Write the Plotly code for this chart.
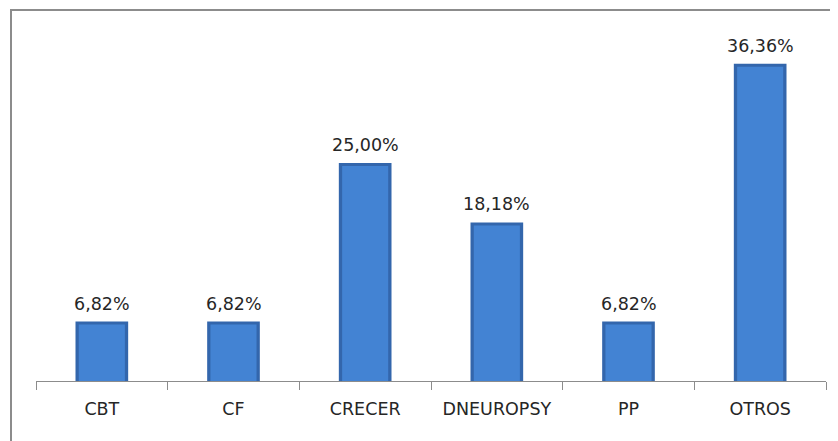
import plotly.graph_objects as go

categories = ["CBT", "CF", "CRECER", "DNEUROPSY", "PP", "OTROS"]
percentages = [6.82, 6.82, 25.00, 18.18, 6.82, 36.36]

# page body has an 8px margin, so the figure is 8px smaller than the window
W, H = 830, 433
ML, MR, MT, MB = 28, 12, 24, 60
FONT = "DejaVu Sans"
FSIZE = 17.5

fig = go.Figure()

# darker outer bar gives the bevelled edge
fig.add_trace(go.Bar(
    x=categories, y=percentages, width=0.40,
    marker=dict(color="#3366AC", line=dict(width=0)),
    hoverinfo="skip",
))
# lighter face of the bar
fig.add_trace(go.Bar(
    x=categories, y=[p - 0.35 for p in percentages], width=0.35,
    marker=dict(color="#4383D3", line=dict(width=0)),
    hoverinfo="skip",
))

# value labels above the bars
for cat, p in zip(categories, percentages):
    fig.add_annotation(x=cat, y=p, text=f"{p:.2f}%".replace(".", ","),
                       showarrow=False, yanchor="bottom", yshift=6,
                       font=dict(family=FONT, size=FSIZE, color="#262626"))

pw = W - ML - MR
ph = H - MT - MB
# chart frame (only top and left edges fall inside the picture)
fig.add_shape(type="rect", xref="paper", yref="paper",
              x0=(3 - ML) / pw, x1=(W + 5 - ML) / pw,
              y0=-(H + 5 - MT - ph) / ph, y1=1 + (MT - 2) / ph,
              line=dict(color="#8C8C8C", width=2), fillcolor="rgba(0,0,0,0)",
              layer="below")

fig.update_layout(
    width=W, height=H,
    margin=dict(l=ML, r=MR, t=MT, b=MB),
    paper_bgcolor="white", plot_bgcolor="white",
    barmode="overlay", showlegend=False,
    xaxis=dict(showline=True, linecolor="#8C8C8C", linewidth=1,
               ticks="outside", tickson="boundaries", ticklen=8,
               tickcolor="#8C8C8C", ticklabelstandoff=12,
               tickfont=dict(family=FONT, size=FSIZE, color="#262626"),
               showgrid=False, zeroline=False, automargin=False),
    yaxis=dict(range=[0, 40], visible=False),
)

fig.write_html("out.html")
